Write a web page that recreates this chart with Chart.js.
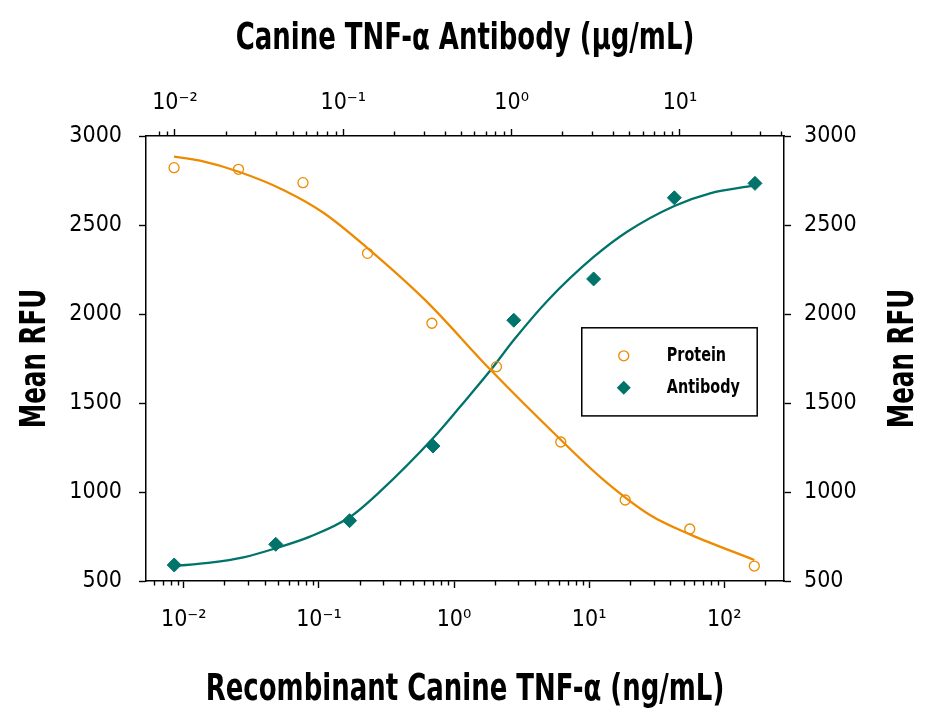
<!DOCTYPE html>
<html>
<head>
<meta charset="utf-8">
<title>Canine TNF-α</title>
<script src="https://cdn.jsdelivr.net/npm/chart.js@4.4.1/dist/chart.umd.min.js"></script>
<style>
  html, body { margin: 0; padding: 0; background: #fff; }
  #wrap { width: 929px; height: 717px; }
</style>
</head>
<body>
<div id="wrap"><canvas id="rfuChart" width="929" height="717"></canvas></div>
<script>
// measured points
const proteinConc = [0.00847, 0.0254, 0.0762, 0.229, 0.686, 2.06, 6.17, 18.5, 55.6, 167];
const proteinRFU = [2822, 2813, 2738, 2341, 1948, 1704, 1281, 955, 792, 584];
const antibodyConc = [0.0099, 0.0397, 0.109, 0.341, 1.03, 3.07, 9.26, 27.9];
const antibodyRFU = [590, 706, 839, 1258, 1965, 2197, 2653, 2734];

// fitted curves
const proteinFitConc = [0.00846, 0.0132, 0.0255, 0.0545, 0.108, 0.230, 0.610, 1.87, 6.19, 12.4, 28.2, 55.8, 167];
const proteinFitRFU = [2884, 2861, 2799, 2697, 2569, 2369, 2079, 1685, 1292, 1077, 871, 762, 618];
const antibodyFitConc = [0.00986, 0.0162, 0.0255, 0.0397, 0.0634, 0.109, 0.165, 0.341, 0.494, 0.751, 1.03, 1.65, 3.06, 4.83, 9.26, 15.1, 27.3];
const antibodyFitRFU = [584, 603, 633, 684, 749, 858, 1002, 1302, 1479, 1685, 1854, 2079, 2319, 2461, 2607, 2678, 2721];

// axis ticks and titles
const bottomTicks = [0.01, 0.1, 1, 10, 100];
const bottomTickLabels = ['10⁻²', '10⁻¹', '10⁰', '10¹', '10²'];
const topTicks = [0.01, 0.1, 1, 10];
const topTickLabels = ['10⁻²', '10⁻¹', '10⁰', '10¹'];
const topTitle = 'Canine TNF-α Antibody (µg/mL)';
const bottomTitle = 'Recombinant Canine TNF-α (ng/mL)';
const yTitle = 'Mean RFU';

const FONT = "'DejaVu Sans Condensed', 'Liberation Sans Narrow', sans-serif";
const ORANGE = '#ee8a00';
const TEAL = '#00736a';

Chart.defaults.font.family = FONT;
Chart.defaults.color = '#000';

function pairs(xs, ys) {
    return xs.map((x, i) => ({ x: x, y: ys[i] }));
}

function isDecade(v) {
    if (!v) return false;
    const e = Math.round(Math.log10(v));
    return Math.abs(v - Math.pow(10, e)) < v * 1e-6;
}

// drop the 1.5 and min/max ticks chart.js adds on log axes
function keepWholeTicks(scale) {
    scale.ticks = scale.ticks.filter(t => {
        const m = t.value / Math.pow(10, Math.floor(Math.log10(t.value) + 1e-9));
        return Math.abs(m - Math.round(m)) < 1e-6;
    });
}

function tickLabel(value, values, labels) {
    const i = values.findIndex(v => Math.abs(v - value) < v * 1e-6);
    return i < 0 ? '' : labels[i];
}

const majorOnly = c => (c.tick && isDecade(c.tick.value)) ? '#000' : 'rgba(0,0,0,0)';

// short ticks between the decades
const minorTicks = {
    id: 'minorTicks',
    afterDraw(chart) {
        const ctx = chart.ctx;
        ctx.save();
        ctx.strokeStyle = '#000';
        ctx.lineWidth = 1.4;
        ['x', 'x2'].forEach(id => {
            const s = chart.scales[id];
            const y0 = s.position === 'bottom' ? s.top : s.bottom;
            const dir = s.position === 'bottom' ? 1 : -1;
            s.ticks.forEach(t => {
                if (isDecade(t.value)) return;
                const px = Math.round(s.getPixelForValue(t.value)) + 0.5;
                ctx.beginPath();
                ctx.moveTo(px, y0);
                ctx.lineTo(px, y0 + dir * 4.5);
                ctx.stroke();
            });
        });
        ctx.restore();
    }
};

const legendBox = {
    id: 'legendBox',
    afterDatasetsDraw(chart) {
        const ctx = chart.ctx;
        const a = chart.chartArea;
        const w = a.right - a.left, h = a.bottom - a.top;
        const left = a.left + w * 0.683, right = a.left + w * 0.958;
        const top = a.top + h * 0.431, bottom = a.top + h * 0.629;
        ctx.save();
        ctx.fillStyle = '#fff';
        ctx.fillRect(left, top, right - left, bottom - top);
        ctx.strokeStyle = '#000';
        ctx.lineWidth = 1.5;
        ctx.strokeRect(left, top, right - left, bottom - top);
        ctx.font = 'bold 20px ' + FONT;
        ctx.textBaseline = 'middle';
        ctx.textAlign = 'left';
        chart.data.datasets.filter(d => d.inLegend).forEach((d, i) => {
            const y = top + 28 + i * 32;
            const x = left + 42;
            ctx.beginPath();
            if (d.pointStyle === 'rectRot') {
                const r = d.pointRadius;
                ctx.moveTo(x, y - r);
                ctx.lineTo(x + r, y);
                ctx.lineTo(x, y + r);
                ctx.lineTo(x - r, y);
                ctx.closePath();
                ctx.fillStyle = d.backgroundColor;
                ctx.fill();
            } else {
                ctx.arc(x, y, d.pointRadius, 0, Math.PI * 2);
                ctx.strokeStyle = d.borderColor;
                ctx.lineWidth = d.borderWidth;
                ctx.stroke();
            }
            ctx.fillStyle = '#000';
            ctx.save();
            ctx.translate(left + 85, y);
            ctx.scale(0.8, 1);
            ctx.fillText(d.label, 0, 0);
            ctx.restore();
        });
        ctx.restore();
    }
};

// axis titles, squeezed sideways to look like the condensed face of the original
function narrowText(ctx, text, x, y, angle, size) {
    ctx.save();
    ctx.translate(x, y);
    ctx.rotate(angle);
    ctx.scale(0.76, 1);
    ctx.font = 'bold ' + size + 'px ' + FONT;
    ctx.fillStyle = '#000';
    ctx.textAlign = 'center';
    ctx.textBaseline = 'alphabetic';
    ctx.fillText(text, 0, 0);
    ctx.restore();
}

const axisTitles = {
    id: 'axisTitles',
    afterDraw(chart) {
        const ctx = chart.ctx;
        const a = chart.chartArea;
        const cx = (a.left + a.right) / 2, cy = (a.top + a.bottom) / 2;
        narrowText(ctx, topTitle, cx, a.top - 87, 0, 38);
        narrowText(ctx, bottomTitle, cx, a.bottom + 119, 0, 38);
        narrowText(ctx, yTitle, a.left - 101, cy, -Math.PI / 2, 36);
        narrowText(ctx, yTitle, a.right + 129, cy, -Math.PI / 2, 36);
    }
};

const yAxis = (position, width, pad) => ({
    type: 'linear',
    position: position,
    min: 500,
    max: 3000,
    afterFit: s => { s.width = width; },
    grid: { drawOnChartArea: false, drawTicks: true, tickLength: 7, tickWidth: 1.4, tickColor: '#000' },
    border: { display: true, color: '#000', width: 1.5 },
    ticks: { stepSize: 500, padding: pad, font: { size: 23 }, color: '#000', callback: v => String(v) }
});

const logAxis = (position, min, max, pad, values, labels) => ({
    type: 'logarithmic',
    position: position,
    min: min,
    max: max,
    afterBuildTicks: keepWholeTicks,
    afterFit: s => { s.height = 136; },
    grid: { drawOnChartArea: false, drawTicks: true, tickLength: 7, tickWidth: 1.4, tickColor: majorOnly },
    border: { display: true, color: '#000', width: 1.5 },
    ticks: {
        autoSkip: false, maxRotation: 0, minRotation: 0, padding: pad,
        font: { size: 23 }, color: '#000',
        callback: v => tickLabel(v, values, labels)
    }
});

const ctx = document.getElementById('rfuChart').getContext('2d');
const chart = new Chart(ctx, {
    type: 'scatter',
    data: {
        datasets: [
            {
                label: 'Protein',
                inLegend: true,
                data: pairs(proteinConc, proteinRFU),
                xAxisID: 'x', yAxisID: 'y',
                pointStyle: 'circle',
                pointRadius: 5,
                borderColor: ORANGE,
                backgroundColor: 'rgba(0,0,0,0)',
                borderWidth: 1.3,
                order: 0
            },
            {
                label: 'Antibody',
                inLegend: true,
                data: pairs(antibodyConc, antibodyRFU),
                xAxisID: 'x2', yAxisID: 'y',
                pointStyle: 'rectRot',
                pointRadius: 7,
                borderColor: TEAL,
                backgroundColor: TEAL,
                borderWidth: 1,
                order: 0
            },
            {
                label: 'Protein fit',
                data: pairs(proteinFitConc, proteinFitRFU),
                xAxisID: 'x', yAxisID: 'y',
                showLine: true,
                pointRadius: 0,
                borderColor: ORANGE,
                borderWidth: 2.3,
                cubicInterpolationMode: 'monotone',
                order: 1
            },
            {
                label: 'Antibody fit',
                data: pairs(antibodyFitConc, antibodyFitRFU),
                xAxisID: 'x2', yAxisID: 'y',
                showLine: true,
                pointRadius: 0,
                borderColor: TEAL,
                borderWidth: 2.3,
                cubicInterpolationMode: 'monotone',
                order: 1
            }
        ]
    },
    options: {
        responsive: false,
        animation: false,
        layout: { padding: 0 },
        plugins: { legend: { display: false }, tooltip: { enabled: false } },
        scales: {
            x: logAxis('bottom', 0.00525, 277, 18, bottomTicks, bottomTickLabels),
            x2: logAxis('top', 0.00673, 41.5, 12, topTicks, topTickLabels),
            y: yAxis('left', 146, 17),
            y2: yAxis('right', 145, 13)
        }
    },
    plugins: [minorTicks, legendBox, axisTitles]
});
</script>
</body>
</html>
